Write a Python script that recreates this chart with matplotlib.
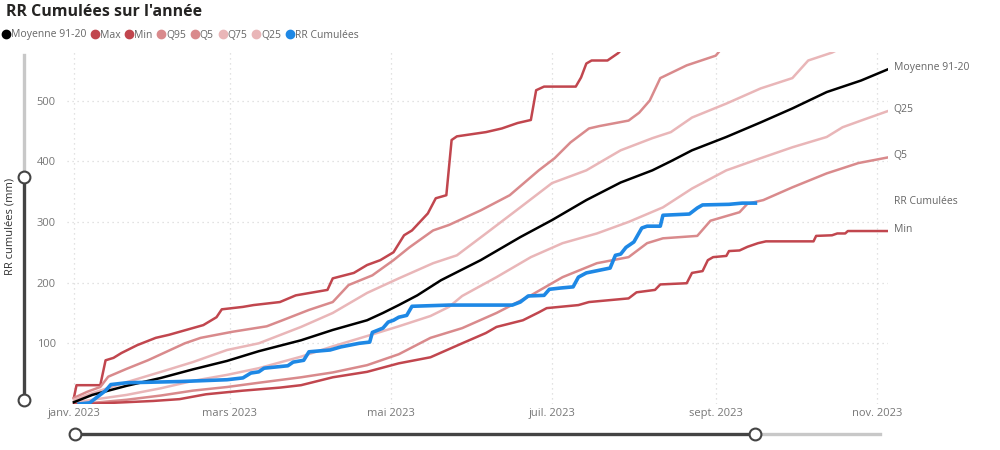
import matplotlib
matplotlib.use('Agg')
import matplotlib.pyplot as plt
from matplotlib.lines import Line2D
from matplotlib.transforms import blended_transform_factory
import pandas as pd

# Cumuls de précipitations 2023 vs climatologie 1991-2020
start = pd.Timestamp('2023-01-01')

max_days = [0, 1, 10, 12, 15, 18, 24, 31, 36, 49, 54, 56, 64, 68, 78, 84, 96, 98, 106, 111,
            116, 121, 125, 128, 131, 134, 137, 141, 143, 145, 156, 162, 168, 173, 175, 178, 190, 192, 194, 196,
            202, 206, 212]
max_vals = [10, 31, 31, 72, 76, 84, 97, 109, 114, 130, 143, 156, 160, 163, 168, 179, 188, 207, 216, 229,
            237, 250, 278, 286, 300, 314, 339, 344, 435, 441, 448, 454, 463, 468, 517, 523, 523, 538, 561, 566,
            566, 578, 605]

q95_days = [0, 5, 10, 13, 20, 28, 36, 42, 48, 60, 73, 79, 89, 98, 104, 113, 121, 127, 136, 142,
            154, 165, 176, 182, 188, 195, 199, 210, 214, 218, 222, 232, 243, 246]
q95_vals = [10, 20, 28, 45, 58, 72, 88, 100, 109, 119, 128, 138, 155, 168, 196, 212, 237, 258, 286, 295,
            319, 344, 385, 405, 431, 454, 458, 467, 480, 500, 537, 558, 574, 590]

q75_days = [0, 7, 20, 33, 45, 58, 70, 86, 98, 111, 123, 136, 145, 156, 169, 181, 194, 207, 219, 226,
            234, 247, 260, 272, 278, 287, 292]
q75_vals = [7, 18, 36, 53, 69, 89, 100, 127, 150, 183, 207, 232, 245, 281, 324, 364, 385, 418, 438, 448,
            472, 495, 520, 537, 566, 579, 590]

moy_days = [0, 7, 20, 33, 45, 58, 70, 86, 98, 111, 117, 123, 130, 139, 154, 169, 181, 194, 207, 219,
            226, 234, 247, 260, 272, 285, 298, 309]
moy_vals = [3, 15, 30, 43, 57, 71, 87, 105, 122, 138, 150, 163, 179, 204, 237, 275, 303, 336, 365, 385,
            400, 418, 440, 464, 487, 514, 533, 553]

q25_days = [1, 7, 20, 33, 45, 58, 70, 86, 98, 111, 123, 135, 142, 147, 160, 173, 185, 198, 210, 223,
            234, 247, 260, 272, 285, 291, 298, 309]
q25_vals = [3, 7, 15, 26, 38, 48, 59, 78, 95, 112, 128, 145, 160, 178, 209, 242, 265, 281, 300, 324,
            355, 385, 405, 423, 440, 456, 467, 484]

q5_days = [1, 10, 20, 33, 45, 58, 70, 86, 98, 111, 123, 135, 147, 160, 173, 185, 198, 210, 217, 223,
           236, 241, 252, 255, 261, 272, 285, 297, 309]
q5_vals = [0, 3, 7, 14, 22, 28, 35, 44, 52, 64, 82, 109, 125, 150, 179, 209, 232, 242, 265, 273,
           277, 302, 316, 330, 336, 357, 380, 397, 407]

min_days = [0, 10, 20, 30, 40, 45, 50, 64, 78, 86, 98, 111, 123, 135, 147, 156, 160, 170, 176, 179,
            191, 195, 210, 213, 220, 222, 232, 234, 238, 240, 242, 247, 248, 252, 255, 259, 262, 280, 281, 287,
            289, 292, 293, 309]
min_vals = [0, 1, 3, 5, 8, 12, 16, 22, 27, 31, 44, 53, 67, 77, 100, 117, 127, 138, 151, 158,
            163, 168, 174, 184, 188, 197, 199, 216, 219, 237, 242, 244, 252, 253, 259, 265, 268, 268, 277, 278,
            281, 281, 285, 285]

rr_days = [2, 6, 9, 12, 14, 20, 40, 58, 64, 67, 70, 72, 81, 83, 87, 89, 97, 101, 108, 112,
           113, 117, 119, 121, 123, 126, 128, 142, 166, 169, 172, 178, 180, 184, 189, 191, 194, 203, 205, 207,
           209, 212, 215, 217, 222, 223, 233, 236, 238, 248, 253, 258]
rr_vals = [0, 2, 12, 22, 32, 35, 37, 40, 43, 51, 53, 59, 63, 69, 72, 86, 89, 94, 100, 102,
           118, 125, 135, 138, 143, 146, 161, 163, 163, 168, 178, 179, 189, 191, 193, 209, 216, 224, 245, 247,
           258, 267, 290, 293, 293, 311, 313, 323, 328, 329, 331, 331]

month_ticks = ['2023-01-01', '2023-03-01', '2023-05-01', '2023-07-01', '2023-09-01', '2023-11-01']
month_labels = ['janv. 2023', 'mars 2023', 'mai 2023', 'juil. 2023', 'sept. 2023', 'nov. 2023']

C_MAX = '#C1464E'
C_MID = '#D98A8C'
C_LIGHT = '#E9B6B8'
C_BLUE = '#1E88E5'

series = [
    ('Max', max_days, max_vals, C_MAX, 1.8, False),
    ('Q95', q95_days, q95_vals, C_MID, 1.8, False),
    ('Q75', q75_days, q75_vals, C_LIGHT, 1.8, False),
    ('Q25', q25_days, q25_vals, C_LIGHT, 1.8, True),
    ('Q5', q5_days, q5_vals, C_MID, 1.8, True),
    ('Min', min_days, min_vals, C_MAX, 1.8, True),
    ('Moyenne 91-20', moy_days, moy_vals, 'black', 1.8, True),
    ('RR Cumulées', rr_days, rr_vals, C_BLUE, 2.6, True),
]

def to_dates(days):
    return start + pd.to_timedelta(days, unit='D')

def fx(px):
    return px / 1000

def fy(py):
    return 1 - py / 450

plt.rcParams['font.family'] = ['Open Sans', 'DejaVu Sans']

fig = plt.figure(figsize=(10, 4.5), dpi=100)
ax = fig.add_axes([fx(67), fy(404), fx(888) - fx(67), fy(52) - fy(404)])

for name, d, v, col, lw, lab in series:
    ax.plot(to_dates(d), v, color=col, lw=lw, solid_joinstyle='round', clip_on=True)

ax.set_ylim(0, 580)
ax.set_xlim(start - pd.Timedelta(days=2.6), start + pd.Timedelta(days=308.2))
ax.set_yticks([100, 200, 300, 400, 500])
ax.set_xticks(pd.to_datetime(month_ticks))
ax.set_xticklabels(month_labels)
ax.tick_params(axis='both', length=0, labelsize=8, labelcolor='#777777')
ax.tick_params(axis='y', pad=8)
ax.tick_params(axis='x', pad=3)
ax.grid(True, color='#d9d9d9', linestyle=(0, (1, 3)), linewidth=0.9)
for s in ax.spines.values():
    s.set_visible(False)

# étiquettes en bout de courbe
tr = blended_transform_factory(ax.transAxes, ax.transData)
for name, d, v, col, lw, lab in series:
    if lab:
        ax.text(1.007, v[-1] + 2, name, transform=tr, fontsize=7.5, color='#666666',
                va='center', ha='left', clip_on=False)

fig.text(0.006, fy(12), "RR Cumulées sur l'année", fontsize=11.5, fontweight='bold',
         color='#252423', va='center', ha='left')
fig.text(fx(10), fy(226), 'RR cumulées (mm)', rotation=90, fontsize=8, color='#333333',
         va='center', ha='center')

legend_items = [('Moyenne 91-20', 'black'), ('Max', C_MAX), ('Min', C_MAX), ('Q95', C_MID),
                ('Q5', C_MID), ('Q75', C_LIGHT), ('Q25', C_LIGHT), ('RR Cumulées', C_BLUE)]
handles = [Line2D([], [], marker='o', ls='', color=c, ms=6) for _, c in legend_items]
fig.legend(handles, [n for n, _ in legend_items], loc='center left', bbox_to_anchor=(0.002, fy(35)),
           ncol=8, frameon=False, handlelength=0.7, handletextpad=0.12, columnspacing=0.5,
           fontsize=7.5, labelcolor='#666666', borderaxespad=0, borderpad=0)

# curseurs (slicers)
DARK = '#444444'
LIGHTG = '#c8c8c8'
fig.add_artist(Line2D([fx(24), fx(24)], [fy(55), fy(177)], color=LIGHTG, lw=2.4, transform=fig.transFigure))
fig.add_artist(Line2D([fx(24), fx(24)], [fy(177), fy(400)], color=DARK, lw=2.4, transform=fig.transFigure))
fig.add_artist(Line2D([fx(75), fx(755)], [fy(434), fy(434)], color=DARK, lw=2.4, transform=fig.transFigure))
fig.add_artist(Line2D([fx(755), fx(880)], [fy(434), fy(434)], color=LIGHTG, lw=2.4, transform=fig.transFigure))
for (px, py) in [(24, 177), (24, 400), (75, 434), (755, 434)]:
    fig.add_artist(Line2D([fx(px)], [fy(py)], marker='o', ms=8.5, mfc='white', mec=DARK, mew=1.5,
                          transform=fig.transFigure))

fig.savefig('out.png', dpi=100)
